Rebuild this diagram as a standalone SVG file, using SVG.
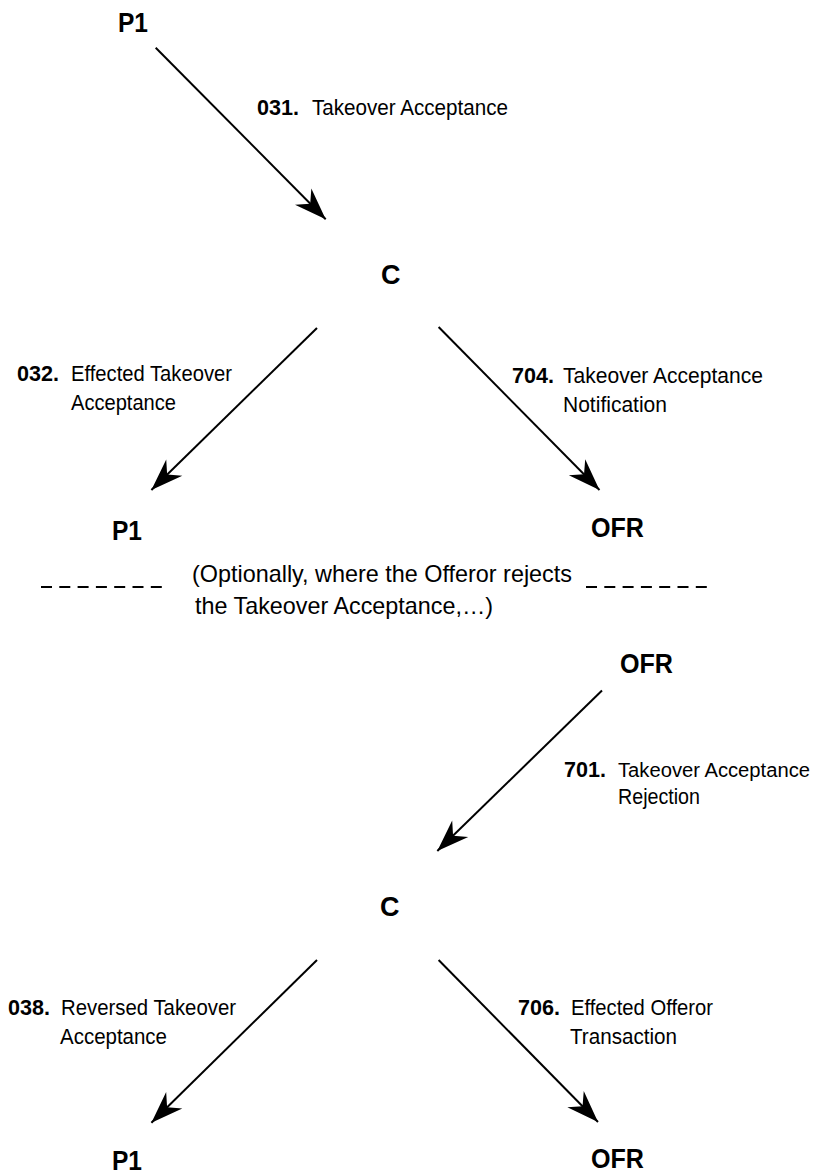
<svg xmlns="http://www.w3.org/2000/svg" width="818" height="1174" viewBox="0 0 818 1174">
  <defs>
    <style>
      .node { font-family: "Liberation Sans", Arial, sans-serif; font-weight: bold; font-size: 27px; fill: #000; }
      .num { font-family: "Liberation Sans", Arial, sans-serif; font-weight: bold; font-size: 22px; fill: #000; }
      .lbl { font-family: "Liberation Sans", Arial, sans-serif; font-size: 22px; fill: #000; }
      .lbl.tight { font-size: 20px; }
      .note { font-family: "Liberation Sans", Arial, sans-serif; font-size: 24px; fill: #000; }
      .flow { stroke: #000; stroke-width: 2; fill: none; marker-end: url(#head); }
      .dash { stroke: #000; stroke-width: 2; fill: none; stroke-dasharray: 11 7.3; }
    </style>
    <!-- swept, notched arrowhead; tip sits on the line end -->
    <marker id="head" markerUnits="userSpaceOnUse" viewBox="-34 -13 36 26" refX="0" refY="0" markerWidth="36" markerHeight="26" orient="auto" overflow="visible">
      <path d="M0,0 L-32,-11.5 L-22,0 L-32,11.5 Z" fill="#000"/>
    </marker>
  </defs>

  <!-- message flows -->
  <g id="connectors">
    <line class="flow" x1="155.7" y1="47.7" x2="325.7" y2="219.3"/>
    <line class="flow" x1="317" y1="328" x2="151.4" y2="490"/>
    <line class="flow" x1="438.6" y1="327" x2="599.5" y2="490"/>
    <line class="flow" x1="602" y1="690.5" x2="437.3" y2="851"/>
    <line class="flow" x1="317" y1="960" x2="151.4" y2="1122.7"/>
    <line class="flow" x1="438.6" y1="960" x2="598" y2="1122"/>
    <line class="dash" x1="41" y1="587" x2="162" y2="587"/>
    <line class="dash" x1="586" y1="587" x2="709" y2="587"/>
  </g>

  <!-- participants -->
  <g id="p1-top"><text class="node" x="118" y="32" textLength="30" lengthAdjust="spacingAndGlyphs">P1</text></g>
  <g id="c-top"><text class="node" x="381" y="284">C</text></g>
  <g id="p1-mid"><text class="node" x="112" y="540" textLength="30" lengthAdjust="spacingAndGlyphs">P1</text></g>
  <g id="ofr-mid"><text class="node" x="591" y="537" textLength="53" lengthAdjust="spacingAndGlyphs">OFR</text></g>
  <g id="ofr-reject"><text class="node" x="620" y="673" textLength="53" lengthAdjust="spacingAndGlyphs">OFR</text></g>
  <g id="c-bottom"><text class="node" x="380" y="916">C</text></g>
  <g id="p1-bottom"><text class="node" x="112" y="1170" textLength="30" lengthAdjust="spacingAndGlyphs">P1</text></g>
  <g id="ofr-bottom"><text class="node" x="591" y="1168" textLength="53" lengthAdjust="spacingAndGlyphs">OFR</text></g>

  <!-- flow labels -->
  <g id="label-031">
    <text class="num" x="257" y="115" textLength="42" lengthAdjust="spacingAndGlyphs">031.</text>
    <text class="lbl" x="312" y="115" textLength="196" lengthAdjust="spacingAndGlyphs">Takeover Acceptance</text>
  </g>
  <g id="label-032">
    <text class="num" x="17" y="381" textLength="42" lengthAdjust="spacingAndGlyphs">032.</text>
    <text class="lbl" x="71" y="381" textLength="161" lengthAdjust="spacingAndGlyphs">Effected Takeover</text>
    <text class="lbl" x="71" y="410" textLength="105" lengthAdjust="spacingAndGlyphs">Acceptance</text>
  </g>
  <g id="label-704">
    <text class="num" x="512" y="383" textLength="42" lengthAdjust="spacingAndGlyphs">704.</text>
    <text class="lbl" x="563" y="383" textLength="200" lengthAdjust="spacingAndGlyphs">Takeover Acceptance</text>
    <text class="lbl" x="563" y="412" textLength="104" lengthAdjust="spacingAndGlyphs">Notification</text>
  </g>
  <g id="note-optional">
    <text class="note" x="192" y="582" textLength="380" lengthAdjust="spacingAndGlyphs">(Optionally, where the Offeror rejects</text>
    <text class="note" x="195" y="614" textLength="298" lengthAdjust="spacingAndGlyphs">the Takeover Acceptance,…)</text>
  </g>
  <g id="label-701">
    <text class="num" x="564" y="777" textLength="42" lengthAdjust="spacingAndGlyphs">701.</text>
    <text class="lbl tight" x="618" y="777" textLength="192" lengthAdjust="spacingAndGlyphs">Takeover Acceptance</text>
    <text class="lbl" x="618" y="804" textLength="82" lengthAdjust="spacingAndGlyphs">Rejection</text>
  </g>
  <g id="label-038">
    <text class="num" x="8" y="1015" textLength="42" lengthAdjust="spacingAndGlyphs">038.</text>
    <text class="lbl" x="61" y="1015" textLength="175" lengthAdjust="spacingAndGlyphs">Reversed Takeover</text>
    <text class="lbl" x="60" y="1044" textLength="107" lengthAdjust="spacingAndGlyphs">Acceptance</text>
  </g>
  <g id="label-706">
    <text class="num" x="518" y="1015" textLength="42" lengthAdjust="spacingAndGlyphs">706.</text>
    <text class="lbl" x="571" y="1015" textLength="142" lengthAdjust="spacingAndGlyphs">Effected Offeror</text>
    <text class="lbl" x="570" y="1044" textLength="107" lengthAdjust="spacingAndGlyphs">Transaction</text>
  </g>
</svg>
